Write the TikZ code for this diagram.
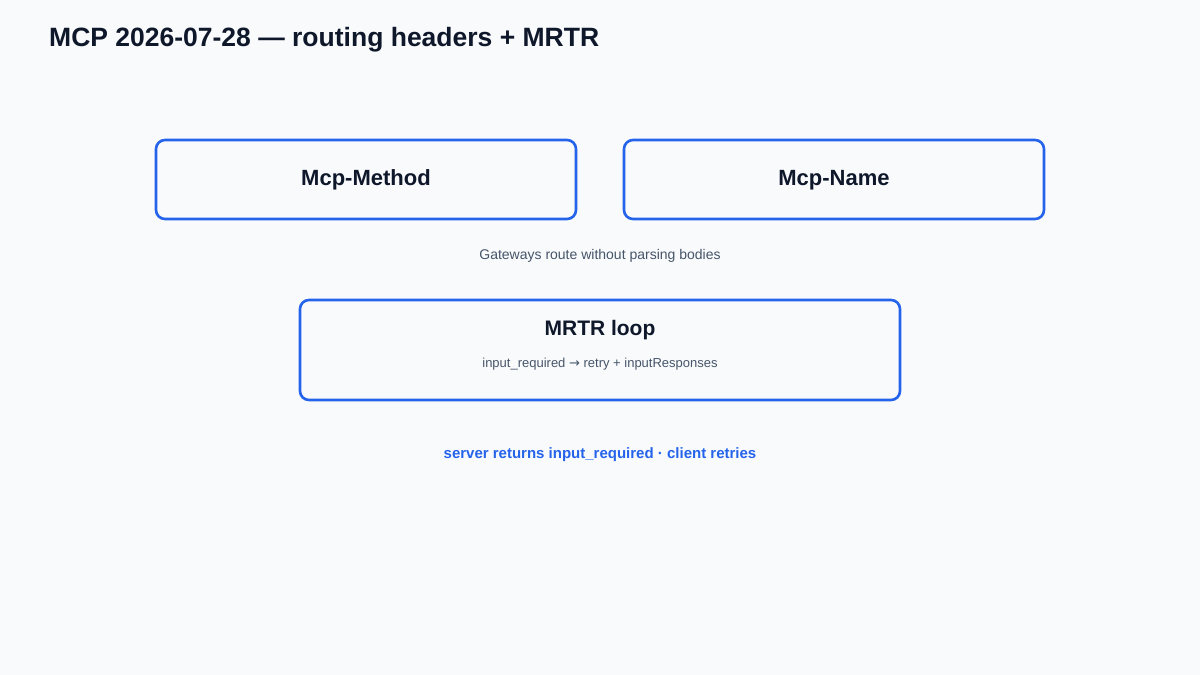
\documentclass[tikz,border=0pt]{standalone}
\usepackage{fontspec}
\setmainfont{Liberation Sans}
\newfontfamily\symfont{DejaVu Sans}
\definecolor{bg}{HTML}{F8FAFC}
\definecolor{ink}{HTML}{0F172A}
\definecolor{muted}{HTML}{475569}
\definecolor{accent}{HTML}{2563EB}
\tikzset{
  hbox/.style={draw=accent, line width=2.6pt, rounded corners=9pt, fill=bg},
  boxlabel/.style={font=\fontsize{22}{26}\selectfont\bfseries, text=ink},
  note/.style={font=\fontsize{14}{17}\selectfont, text=muted},
}
\begin{document}
\begin{tikzpicture}[x=1pt,y=-1pt]
\path[fill=bg] (0,0) rectangle (1200,675);
\useasboundingbox (0,0) rectangle (1200,675);
\node[anchor=west, inner sep=0pt, font=\fontsize{26.5}{30}\selectfont\bfseries, text=ink] (title) at (49,40) {MCP 2026-07-28 — routing headers + MRTR};
\draw[hbox] (156,140) rectangle (576,219);
\node[boxlabel] (method) at (366,180) {Mcp-Method};
\draw[hbox] (624,140) rectangle (1044,219);
\node[boxlabel] (name) at (834,180) {Mcp-Name};
\node[note] (gw) at (600,256) {Gateways route without parsing bodies};
\draw[hbox] (300,300) rectangle (900,400);
\node[boxlabel, font=\fontsize{21}{25}\selectfont\bfseries] (mrtr) at (600,330) {MRTR loop};
\node[note, font=\fontsize{13}{16}\selectfont] (sub) at (600,364) {input\_required {\symfont\fontsize{13}{15}\selectfont →} retry + inputResponses};
\node[font=\fontsize{15}{18}\selectfont\bfseries, text=accent] (cap) at (600,455) {server returns input\_required · client retries};
\end{tikzpicture}
\end{document}
